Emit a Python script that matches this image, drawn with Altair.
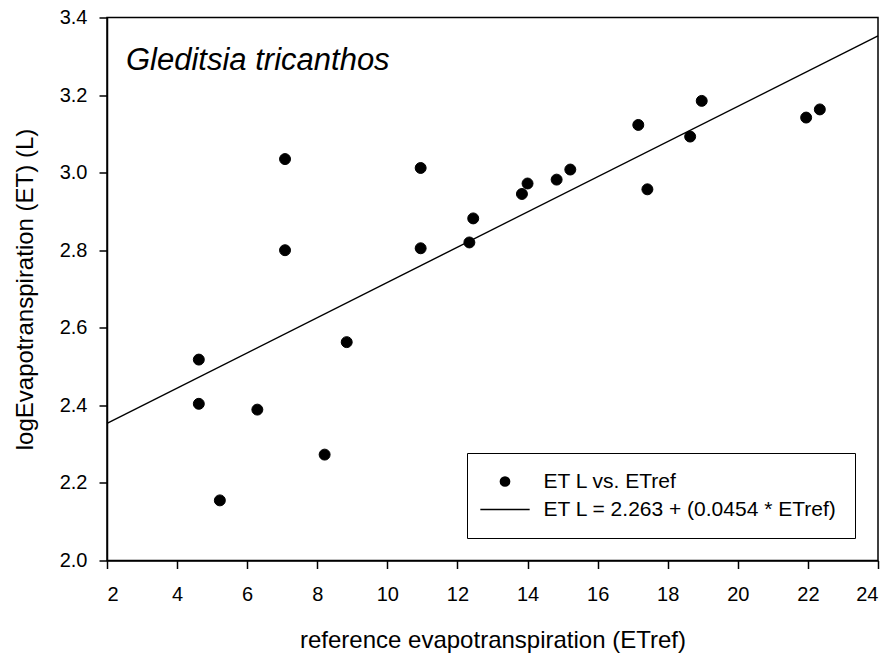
import altair as alt
import pandas as pd

# Observed points (reference ET vs log ET)
etref = [4.62, 4.62, 5.22, 6.29, 7.08, 7.08, 8.21, 8.84, 10.95, 10.95, 12.34,
         12.45, 13.84, 14.00, 14.83, 15.22, 17.16, 17.42, 18.64, 18.97, 21.95, 22.34]
logET = [2.518, 2.404, 2.155, 2.389, 3.035, 2.800, 2.273, 2.563, 3.012, 2.805, 2.820,
         2.882, 2.945, 2.972, 2.982, 3.008, 3.123, 2.957, 3.093, 3.185, 3.142, 3.163]

# Regression line as printed in the legend
intercept = 2.263
slope = 0.0454
fit_x = [2, 24]

series_names = ["ET L vs. ETref", "ET L = 2.263 + (0.0454 * ETref)"]
x_ticks = [2, 4, 6, 8, 10, 12, 14, 16, 18, 20, 22, 24]
y_ticks = [2.0, 2.2, 2.4, 2.6, 2.8, 3.0, 3.2, 3.4]
species = "Gleditsia tricanthos"

pts = pd.DataFrame({"ETref": etref, "ETL": logET, "series": series_names[0]})
fit = pd.DataFrame({"ETref": fit_x, "ETL": [intercept + slope * v for v in fit_x]})

FONT = "Liberation Sans"

xscale = alt.Scale(domain=[2, 24], nice=False, zero=False)
yscale = alt.Scale(domain=[2.0, 3.4], nice=False, zero=False)

xaxis = alt.Axis(values=x_ticks, title="reference evapotranspiration (ETref)",
                 labelPadding=16, titleY=86.5, titleBaseline="alphabetic")
yaxis = alt.Axis(values=y_ticks, format=".1f", title="logEvapotranspiration (ET) (L)",
                 labelPadding=12, titleX=-75, titleBaseline="alphabetic")

# legend symbols: filled circle, and a thin horizontal bar standing for the fit line
line_symbol = "M-4.6,-0.13H4.6V0.13H-4.6Z"

points = alt.Chart(pts).mark_point(
    filled=False, fill="black", stroke="black", strokeWidth=1, size=120,
    opacity=1, fillOpacity=1
).encode(
    x=alt.X("ETref:Q", scale=xscale, axis=xaxis),
    y=alt.Y("ETL:Q", scale=yscale, axis=yaxis),
    shape=alt.Shape(
        "series:N",
        scale=alt.Scale(domain=series_names, range=["circle", line_symbol]),
        legend=alt.Legend(
            title=None, orient="none", legendX=360, legendY=435.5,
            padding=18, rowPadding=6, symbolOffset=9.5, labelOffset=28,
            symbolSize=115, symbolFillColor="black", symbolStrokeColor="black",
            symbolStrokeWidth=1, labelFont=FONT, labelFontSize=21,
            labelColor="black", labelLimit=500, strokeColor="black",
            labelExpr="datum.label + '\u2002'",
        ),
    ),
)

line = alt.Chart(fit).mark_line(color="black", strokeWidth=1.4).encode(
    x=alt.X("ETref:Q", scale=xscale),
    y=alt.Y("ETL:Q", scale=yscale),
)

label = alt.Chart(pd.DataFrame({"t": [species]})).mark_text(
    font=FONT, fontStyle="italic", fontSize=31, align="left",
    baseline="alphabetic", color="black"
).encode(text="t:N", x=alt.value(19), y=alt.value(52))

chart = alt.layer(line, points, label).properties(
    width=771, height=543,
    background="white",
    autosize=alt.AutoSizeParams(type="none"),
    padding={"left": 107, "top": 17.5, "right": 15, "bottom": 95.5},
).configure_view(
    stroke="black", strokeWidth=1.5
).configure_axis(
    grid=False, domainColor="black", domainWidth=1.5, tickColor="black",
    tickWidth=1.5, tickSize=8, labelFont=FONT, labelFontSize=20,
    labelColor="black", titleFont=FONT, titleFontSize=24,
    titleFontWeight="normal", titleColor="black",
)

chart.save("out.html", embed_options={"renderer": "svg", "actions": False})
